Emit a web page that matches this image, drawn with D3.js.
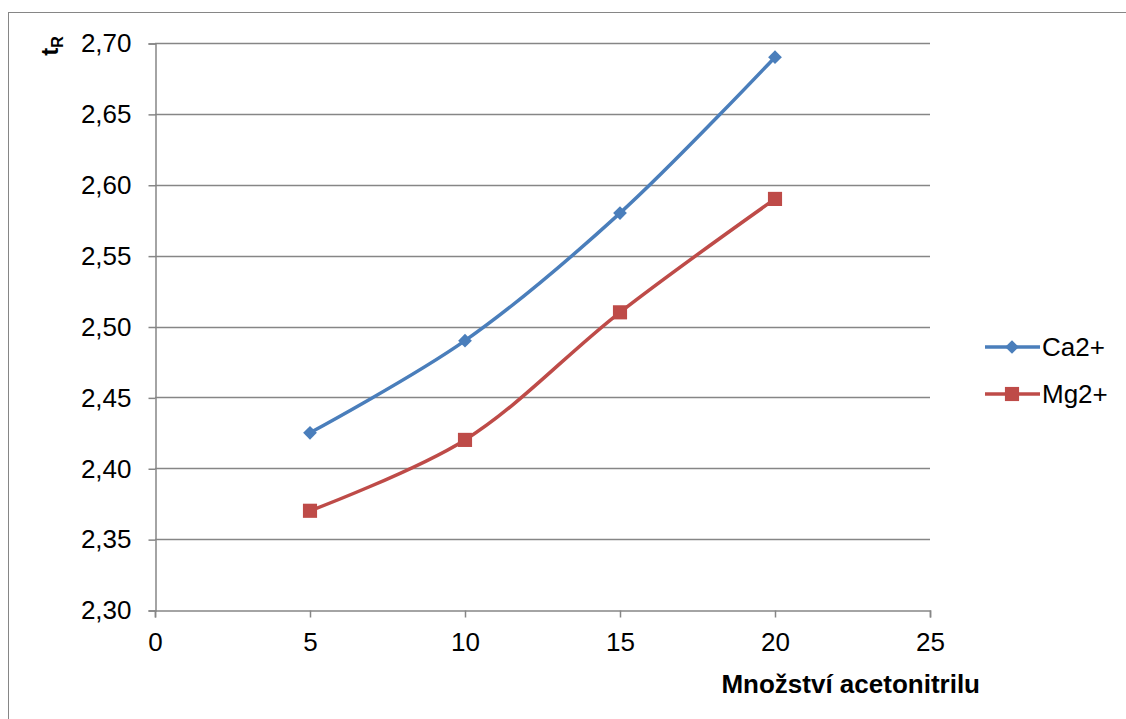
<!DOCTYPE html>
<html>
<head>
<meta charset="utf-8">
<script src="https://cdn.jsdelivr.net/npm/d3@7"></script>
<style>
  body { margin: 0; background: #fff; }
  svg { font-family: Arial, "Liberation Sans", sans-serif; }
</style>
</head>
<body>
<svg id="chart" width="1126" height="719"></svg>
<script>
"use strict";

// data
const xValues = [5, 10, 15, 20];
const caValues = [2.425, 2.49, 2.58, 2.69];
const mgValues = [2.37, 2.42, 2.51, 2.59];
const seriesNames = ["Ca2+", "Mg2+"];
const xTicks = [0, 5, 10, 15, 20, 25];
const yTicks = [2.30, 2.35, 2.40, 2.45, 2.50, 2.55, 2.60, 2.65, 2.70];

const svg = d3.select("#chart");
const FS = 26;

// outer frame
svg.append("rect")
    .attr("x", 8.5).attr("y", 12.5)
    .attr("width", 1120).attr("height", 710)
    .attr("fill", "none").attr("stroke", "#868686").attr("stroke-width", 1);

const plot = { left: 155, right: 930, top: 43, bottom: 610 };

const x = d3.scaleLinear().domain([0, 25]).range([plot.left, plot.right]);
const y = d3.scaleLinear().domain([2.30, 2.70]).range([plot.bottom, plot.top]);

const fmt = d => d3.format(".2f")(d).replace(".", ",");

// gridlines
svg.append("g").selectAll("line")
    .data(yTicks.slice(1))
    .enter().append("line")
    .attr("x1", plot.left).attr("x2", plot.right)
    .attr("y1", d => Math.round(y(d)) + 0.5).attr("y2", d => Math.round(y(d)) + 0.5)
    .attr("stroke", "#868686").attr("stroke-width", 1.5);

// y axis
const yAxis = svg.append("g")
    .attr("transform", "translate(" + (plot.left + 0.5) + ",0.5)")
    .call(d3.axisLeft(y).tickValues(yTicks).tickFormat(fmt).tickSize(7).tickPadding(17));

// x axis
const xAxis = svg.append("g")
    .attr("transform", "translate(0," + (plot.bottom + 0.5) + ")")
    .call(d3.axisBottom(x).tickValues(xTicks).tickFormat(d3.format("d")).tickSize(7).tickPadding(15));

[xAxis, yAxis].forEach(g => {
    g.selectAll("path, line").attr("stroke", "#868686").attr("stroke-width", 1.5);
    g.selectAll("text").attr("font-size", FS).attr("fill", "#000")
        .attr("font-family", "Arial, 'Liberation Sans', sans-serif");
});

// axis titles
svg.append("text")
    .attr("x", 980).attr("y", 693)
    .attr("text-anchor", "end")
    .attr("font-size", FS).attr("font-weight", "bold")
    .text("Množství acetonitrilu");

const yTitle = svg.append("text")
    .attr("transform", "translate(58,46) rotate(-90)")
    .attr("text-anchor", "middle")
    .attr("font-size", 24).attr("font-weight", "bold");
yTitle.append("tspan").text("t");
yTitle.append("tspan").attr("font-size", 16).attr("dy", 5).text("R");

// series
const line = d3.line()
    .x(d => x(d[0]))
    .y(d => y(d[1]))
    .curve(d3.curveCatmullRom.alpha(0.5));

const series = [
    { name: seriesNames[0], values: caValues, color: "#4A7EBB", marker: "diamond" },
    { name: seriesNames[1], values: mgValues, color: "#BE4B48", marker: "square" }
];

const markerPath = m => m === "diamond"
    ? d3.symbol().type(d3.symbolDiamond2).size(120)()
    : d3.symbol().type(d3.symbolSquare).size(200)();

series.forEach(s => {
    const pts = xValues.map((xv, i) => [xv, s.values[i]]);
    svg.append("path")
        .datum(pts)
        .attr("d", line)
        .attr("fill", "none")
        .attr("stroke", s.color)
        .attr("stroke-width", 3.5);

    svg.append("g").selectAll("path")
        .data(pts)
        .enter().append("path")
        .attr("transform", d => "translate(" + x(d[0]) + "," + y(d[1]) + ")")
        .attr("d", markerPath(s.marker))
        .attr("fill", s.color);
});

// legend
const legend = svg.append("g");
series.forEach((s, i) => {
    const ly = 347 + i * 47;
    legend.append("line")
        .attr("x1", 985).attr("x2", 1040)
        .attr("y1", ly).attr("y2", ly)
        .attr("stroke", s.color).attr("stroke-width", 3.5);
    legend.append("path")
        .attr("transform", "translate(1012," + ly + ")")
        .attr("d", markerPath(s.marker))
        .attr("fill", s.color);
    legend.append("text")
        .attr("x", 1042).attr("y", ly + 9)
        .attr("font-size", FS)
        .text(s.name);
});
</script>
</body>
</html>
